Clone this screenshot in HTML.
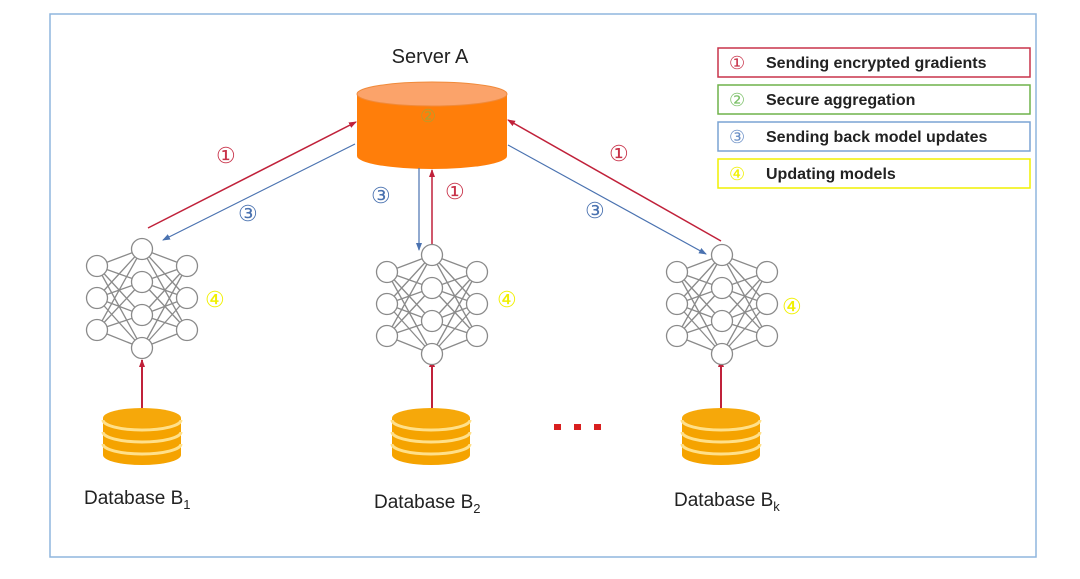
<!DOCTYPE html>
<html><head><meta charset="utf-8"><style>
body{margin:0;background:#fff;}
svg{display:block;font-family:"Liberation Sans",sans-serif;}
</style></head><body>
<svg width="1080" height="579" viewBox="0 0 1080 579" xmlns="http://www.w3.org/2000/svg">
<defs>
<marker id="ar" markerWidth="8" markerHeight="8" refX="7" refY="4" orient="auto" markerUnits="userSpaceOnUse"><path d="M0,1 L8,4 L0,7 z" fill="#c0213a"/></marker>
<marker id="ab" markerWidth="8" markerHeight="8" refX="7" refY="4" orient="auto" markerUnits="userSpaceOnUse"><path d="M0,1 L8,4 L0,7 z" fill="#4a72b0"/></marker>
<g id="net" stroke="#8a8a8a" stroke-width="1.3" fill="#fff">
<g fill="none">
<path d="M-45,-32 L0,-49 M-45,-32 L0,-16 M-45,-32 L0,17 M-45,-32 L0,50 M-45,0 L0,-49 M-45,0 L0,-16 M-45,0 L0,17 M-45,0 L0,50 M-45,32 L0,-49 M-45,32 L0,-16 M-45,32 L0,17 M-45,32 L0,50"/>
<path d="M45,-32 L0,-49 M45,-32 L0,-16 M45,-32 L0,17 M45,-32 L0,50 M45,0 L0,-49 M45,0 L0,-16 M45,0 L0,17 M45,0 L0,50 M45,32 L0,-49 M45,32 L0,-16 M45,32 L0,17 M45,32 L0,50"/>
</g>
<circle cx="-45" cy="-32" r="10.5"/><circle cx="-45" cy="0" r="10.5"/><circle cx="-45" cy="32" r="10.5"/>
<circle cx="45" cy="-32" r="10.5"/><circle cx="45" cy="0" r="10.5"/><circle cx="45" cy="32" r="10.5"/>
<circle cx="0" cy="-49" r="10.5"/><circle cx="0" cy="-16" r="10.5"/><circle cx="0" cy="17" r="10.5"/><circle cx="0" cy="50" r="10.5"/>
</g>
<g id="db">
<path d="M-39,-10 L-39,27 A39,10 0 0 0 39,27 L39,-10 z" fill="#f5a300"/>
<ellipse cx="0" cy="-10" rx="39" ry="10" fill="#f6a80a"/>
<path d="M-39,-8 A39,10 0 0 0 39,-8 M-39,4 A39,10 0 0 0 39,4 M-39,16 A39,10 0 0 0 39,16" stroke="#ffe08a" stroke-width="3" fill="none"/>
</g>
</defs>
<rect x="50" y="14" width="986" height="543" fill="#fff" stroke="#8fb5dd" stroke-width="1.5"/>

<rect x="718" y="48" width="312" height="29" fill="none" stroke="#c8334a" stroke-width="1.5"/>
<rect x="718" y="85" width="312" height="29" fill="none" stroke="#6fb24a" stroke-width="1.5"/>
<rect x="718" y="122" width="312" height="29" fill="none" stroke="#7aa3d4" stroke-width="1.5"/>
<rect x="718" y="159" width="312" height="29" fill="none" stroke="#f0f000" stroke-width="1.5"/>
<g font-size="16" font-weight="bold" fill="#222">
<text x="766" y="68">Sending encrypted gradients</text>
<text x="766" y="105">Secure aggregation</text>
<text x="766" y="142">Sending back model updates</text>
<text x="766" y="179">Updating models</text>
</g>
<g font-size="18">
<text x="729" y="69" fill="#c8334a">①</text>
<text x="729" y="106" fill="#7bc067">②</text>
<text x="729" y="143" fill="#6a8fc6">③</text>
<text x="729" y="180" fill="#f0f000">④</text>
</g>

<text x="430" y="63" font-size="20" text-anchor="middle" fill="#222">Server A</text>
<path d="M357,94 L357,156 A75,13 0 0 0 507,156 L507,94 z" fill="#ff7e0a"/>
<ellipse cx="432" cy="94" rx="75" ry="12" fill="#fba36a" stroke="#f08a3a"/>
<text x="420" y="122" font-size="18" fill="#b0a030">②</text>

<line x1="148" y1="228" x2="356" y2="122" stroke="#c0213a" stroke-width="1.5" marker-end="url(#ar)"/>
<line x1="355" y1="144" x2="163" y2="240" stroke="#4a72b0" stroke-width="1.2" marker-end="url(#ab)"/>
<line x1="419" y1="168" x2="419" y2="250" stroke="#4a72b0" stroke-width="1.2" marker-end="url(#ab)"/>
<line x1="432" y1="244" x2="432" y2="170" stroke="#c0213a" stroke-width="1.5" marker-end="url(#ar)"/>
<line x1="721" y1="241" x2="508" y2="120" stroke="#c0213a" stroke-width="1.5" marker-end="url(#ar)"/>
<line x1="508" y1="145" x2="706" y2="254" stroke="#4a72b0" stroke-width="1.2" marker-end="url(#ab)"/>
<line x1="142" y1="408" x2="142" y2="360" stroke="#c0213a" stroke-width="2" marker-end="url(#ar)"/>
<line x1="432" y1="408" x2="432" y2="360" stroke="#c0213a" stroke-width="2" marker-end="url(#ar)"/>
<line x1="721" y1="408" x2="721" y2="360" stroke="#c0213a" stroke-width="2" marker-end="url(#ar)"/>

<g font-size="22">
<text x="216" y="163" fill="#c8334a">①</text>
<text x="238" y="221" fill="#4a72b0">③</text>
<text x="371" y="203" fill="#4a72b0">③</text>
<text x="445" y="199" fill="#c8334a">①</text>
<text x="585" y="218" fill="#4a72b0">③</text>
<text x="609" y="161" fill="#c8334a">①</text>
<text x="205" y="307" fill="#f0f000">④</text>
<text x="497" y="307" fill="#f0f000">④</text>
<text x="782" y="314" fill="#f0f000">④</text>
</g>

<use href="#net" x="142" y="298"/>
<use href="#net" x="432" y="304"/>
<use href="#net" x="722" y="304"/>

<use href="#db" x="142" y="428"/>
<use href="#db" x="431" y="428"/>
<use href="#db" x="721" y="428"/>

<g fill="#d81f1f">
<rect x="554" y="424" width="7" height="6"/><rect x="574" y="424" width="7" height="6"/><rect x="594" y="424" width="7" height="6"/>
</g>

<g font-size="19" fill="#222">
<text x="84" y="504">Database B<tspan font-size="13" dy="5">1</tspan></text>
<text x="374" y="508">Database B<tspan font-size="13" dy="5">2</tspan></text>
<text x="674" y="506">Database B<tspan font-size="13" dy="5">k</tspan></text>
</g>
</svg>
</body></html>
